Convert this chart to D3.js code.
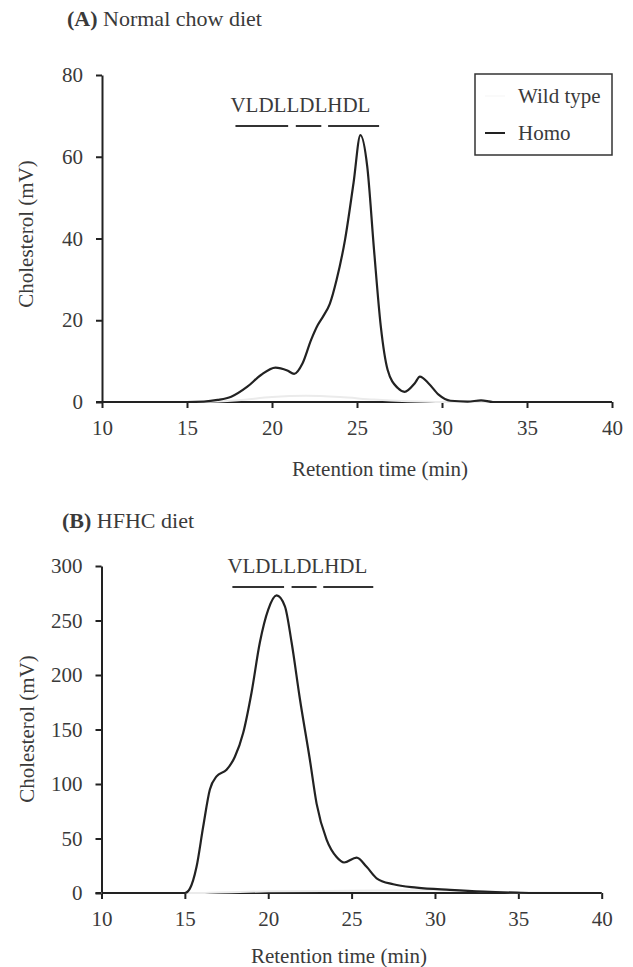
<!DOCTYPE html>
<html>
<head>
<meta charset="utf-8">
<script src="https://cdn.jsdelivr.net/npm/d3@7"></script>
<style>
  body { margin: 0; background: #fff; }
  text { font-family: "Liberation Serif", "Times New Roman", serif; fill: #3a3a3a; }
  .axis path, .axis line { stroke: #222; stroke-width: 2; }
  .axis text { font-size: 21px; font-family: "Liberation Serif", serif; fill: #3a3a3a; }
</style>
</head>
<body>
<div id="chart"></div>
<script>
// frame
const FRAME_WIDTH = 633;
const FRAME_HEIGHT = 967;

// panel A: normal chow diet
const TIME_A = [10, 15, 16, 16.8, 17.6, 18.55, 19.35, 20.2, 20.9, 21.3, 21.8, 22.3, 22.7, 23.0, 23.4, 23.8, 24.3, 24.8, 25.2, 25.6, 26.0, 26.4, 26.8, 27.4, 27.8, 28.4, 28.7, 29.2, 29.8, 30.5, 31.5, 32.3, 33, 40];
const HOMO_A = [0, 0, 0.1, 0.5, 1.3, 3.75, 6.6, 8.4, 7.7, 6.9, 9.5, 15.2, 18.9, 20.9, 24, 29.9, 39.8, 53.7, 65.3, 57.7, 37.3, 18.5, 7.9, 3.4, 2.5, 4.6, 6.2, 4.6, 1.8, 0.3, 0.1, 0.4, 0, 0];
const WT_TIME_A = [10, 16, 18, 20, 22, 24, 26, 28, 30, 40];
const WT_A = [0, 0, 0.4, 1.2, 1.5, 1.2, 0.6, 0.2, 0, 0];

// panel B: HFHC diet
const TIME_B = [10, 15, 15.3, 15.7, 16.1, 16.5, 16.9, 17.5, 18.0, 18.5, 19.0, 19.5, 20.0, 20.5, 21.0, 21.4, 21.9, 22.5, 22.9, 23.5, 24.1, 24.55, 25.3, 25.9, 26.5, 27.5, 28.9, 30.9, 32.9, 34.9, 36, 40];
const HOMO_B = [0, 0, 4, 24, 61, 95, 107, 113, 125, 147, 184, 230, 260, 273, 263, 230, 178, 122, 82, 49, 33, 28, 32.5, 24, 13.5, 8, 4.9, 2.8, 1.2, 0.3, 0, 0];
const WT_TIME_B = [10, 15.5, 17, 20, 25, 30, 33, 35, 40];
const WT_B = [0, 0, 0.5, 1.5, 2, 2.5, 1.5, 0.5, 0];

// ticks and lipoprotein fractions
const X_TICKS = [10, 15, 20, 25, 30, 35, 40];
const Y_TICKS_A = [0, 20, 40, 60, 80];
const Y_TICKS_B = [0, 50, 100, 150, 200, 250, 300];
const FRACTIONS = ["VLDL", "LDL", "HDL"];
const FRACTION_RANGES = [[17.85, 20.95], [21.4, 22.9], [23.3, 26.3]];
const LEGEND = ["Wild type", "Homo"];

const svg = d3.select("#chart")
              .append("svg")
                .attr("width", FRAME_WIDTH)
                .attr("height", FRAME_HEIGHT);

// draws one panel
function drawPanel(opt) {
  const x = d3.scaleLinear().domain([10, 40]).range(opt.xRange);
  const y = d3.scaleLinear().domain(opt.yDomain).range(opt.yRange);

  // x axis
  svg.append("g")
      .attr("class", "axis")
      .attr("transform", "translate(0," + y(0) + ")")
      .call(d3.axisBottom(x).tickValues(X_TICKS).tickSize(6).tickSizeOuter(0).tickPadding(12))
      .call(g => g.select(".domain").attr("d", "M" + (x(10) - 6) + ",0H" + x(40)));

  // y axis
  svg.append("g")
      .attr("class", "axis")
      .attr("transform", "translate(" + x(10) + ",0)")
      .call(d3.axisLeft(y).tickValues(opt.yTicks).tickSize(6).tickSizeOuter(0).tickPadding(13));

  // title
  const title = svg.append("text")
      .attr("x", opt.titleX)
      .attr("y", opt.titleY)
      .attr("font-size", 22);
  title.append("tspan").attr("font-weight", "bold").text(opt.letter);
  title.append("tspan").text(" " + opt.title);

  // axis labels
  svg.append("text")
      .attr("x", opt.xLabelX)
      .attr("y", opt.xLabelY)
      .attr("text-anchor", "middle")
      .attr("font-size", 21)
      .text("Retention time (min)");

  svg.append("text")
      .attr("transform", "translate(" + opt.yLabelX + "," + opt.yLabelY + ") rotate(-90)")
      .attr("text-anchor", "middle")
      .attr("font-size", 21)
      .text("Cholesterol (mV)");

  // fraction labels and bars
  svg.append("text")
      .attr("x", x(FRACTION_RANGES[0][0]) - 5)
      .attr("y", opt.fracY - 14)
      .attr("font-size", 21)
      .text(FRACTIONS.join(""));

  svg.append("g")
    .selectAll("line")
    .data(FRACTION_RANGES)
    .enter()
    .append("line")
      .attr("x1", (d) => x(d[0]))
      .attr("x2", (d) => x(d[1]))
      .attr("y1", opt.fracY)
      .attr("y2", opt.fracY)
      .attr("stroke", "#333")
      .attr("stroke-width", 2);

  const line = d3.line()
      .x((d) => x(d[0]))
      .y((d) => y(d[1]))
      .curve(d3.curveMonotoneX);

  // wild type (very faint in the scan)
  svg.append("path")
      .datum(opt.wtTime.map((t, i) => [t, opt.wt[i]]))
      .attr("fill", "none")
      .attr("stroke", "#ebebeb")
      .attr("stroke-width", 2)
      .attr("d", line);

  // homo
  svg.append("path")
      .datum(opt.time.map((t, i) => [t, opt.homo[i]]))
      .attr("fill", "none")
      .attr("stroke", "#222")
      .attr("stroke-width", 2.2)
      .attr("d", line);
}

drawPanel({
  letter: "(A)", title: "Normal chow diet", titleX: 67, titleY: 26,
  xRange: [102, 612], yDomain: [0, 80], yRange: [402, 75], yTicks: Y_TICKS_A,
  xLabelX: 380, xLabelY: 476, yLabelX: 33, yLabelY: 234, fracY: 126,
  time: TIME_A, homo: HOMO_A, wtTime: WT_TIME_A, wt: WT_A
});

drawPanel({
  letter: "(B)", title: "HFHC diet", titleX: 62, titleY: 528,
  xRange: [101.5, 601.7], yDomain: [0, 300], yRange: [893, 566], yTicks: Y_TICKS_B,
  xLabelX: 339, xLabelY: 963, yLabelX: 34, yLabelY: 729, fracY: 587,
  time: TIME_B, homo: HOMO_B, wtTime: WT_TIME_B, wt: WT_B
});

// legend (panel A)
svg.append("rect")
    .attr("x", 475)
    .attr("y", 74)
    .attr("width", 137)
    .attr("height", 81)
    .attr("fill", "#fff")
    .attr("stroke", "#333")
    .attr("stroke-width", 1.5);

const legend = svg.append("g")
  .selectAll("g")
  .data(LEGEND)
  .enter()
  .append("g")
    .attr("transform", (d, i) => "translate(0," + (103 + i * 37) + ")");

legend.append("line")
    .attr("x1", 485)
    .attr("x2", 505)
    .attr("y1", -7)
    .attr("y2", -7)
    .attr("stroke", (d, i) => i === 0 ? "#fafafa" : "#222")
    .attr("stroke-width", 2);

legend.append("text")
    .attr("x", 518)
    .attr("font-size", 21)
    .text((d) => d);
</script>
</body>
</html>
